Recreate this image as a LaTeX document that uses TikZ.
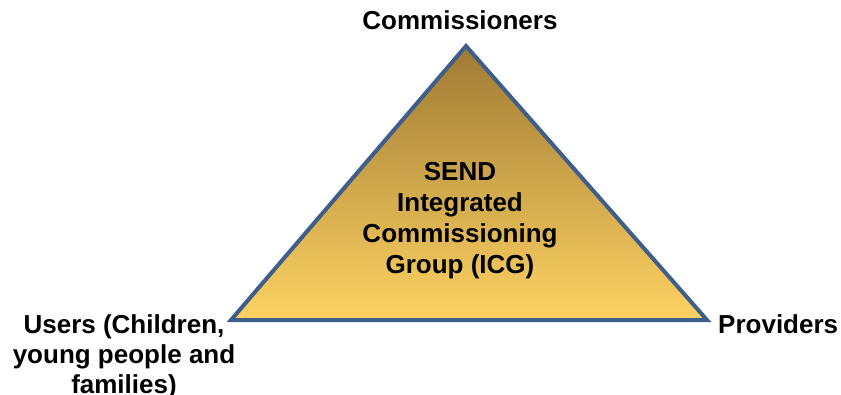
\documentclass[tikz,border=0pt]{standalone}
\usepackage{fontspec}
\setmainfont{Liberation Sans}
\definecolor{edgeblue}{RGB}{62,94,140}
\definecolor{goldtop}{RGB}{160,122,52}
\definecolor{goldbottom}{RGB}{253,210,98}
\begin{document}
\begin{tikzpicture}
    [x=1pt, y=-1pt,
    corner label/.style={font=\bfseries\fontsize{26}{30}\selectfont, inner sep=0pt, align=center},
    group label/.style={font=\bfseries\fontsize{26}{31}\selectfont, inner sep=0pt, align=center},
    pyramid/.style={draw=edgeblue, line width=4pt, line join=miter, top color=goldtop, bottom color=goldbottom}]

    \useasboundingbox (0, 0) rectangle (841, 394);

    % corners of the triangle
    \coordinate (apex) at (466, 46);
    \coordinate (left) at (231, 320);
    \coordinate (right) at (707, 320);

    % drawing the triangle
    \draw[pyramid] (apex) -- (right) -- (left) -- cycle;

    % drawing the group in the middle
    \node[group label, anchor=north] (icg) at (460, 162)
        {SEND\\Integrated\\Commissioning\\Group (ICG)};

    % drawing the corner labels
    \node[corner label, anchor=base] (commissioners) at (460, 29) {Commissioners};
    \node[corner label, anchor=base west] (providers) at (718, 333) {Providers};
    \node[corner label, anchor=north] (users) at (124, 314)
        {Users (Children,\\young people and\\families)};

\end{tikzpicture}
\end{document}
